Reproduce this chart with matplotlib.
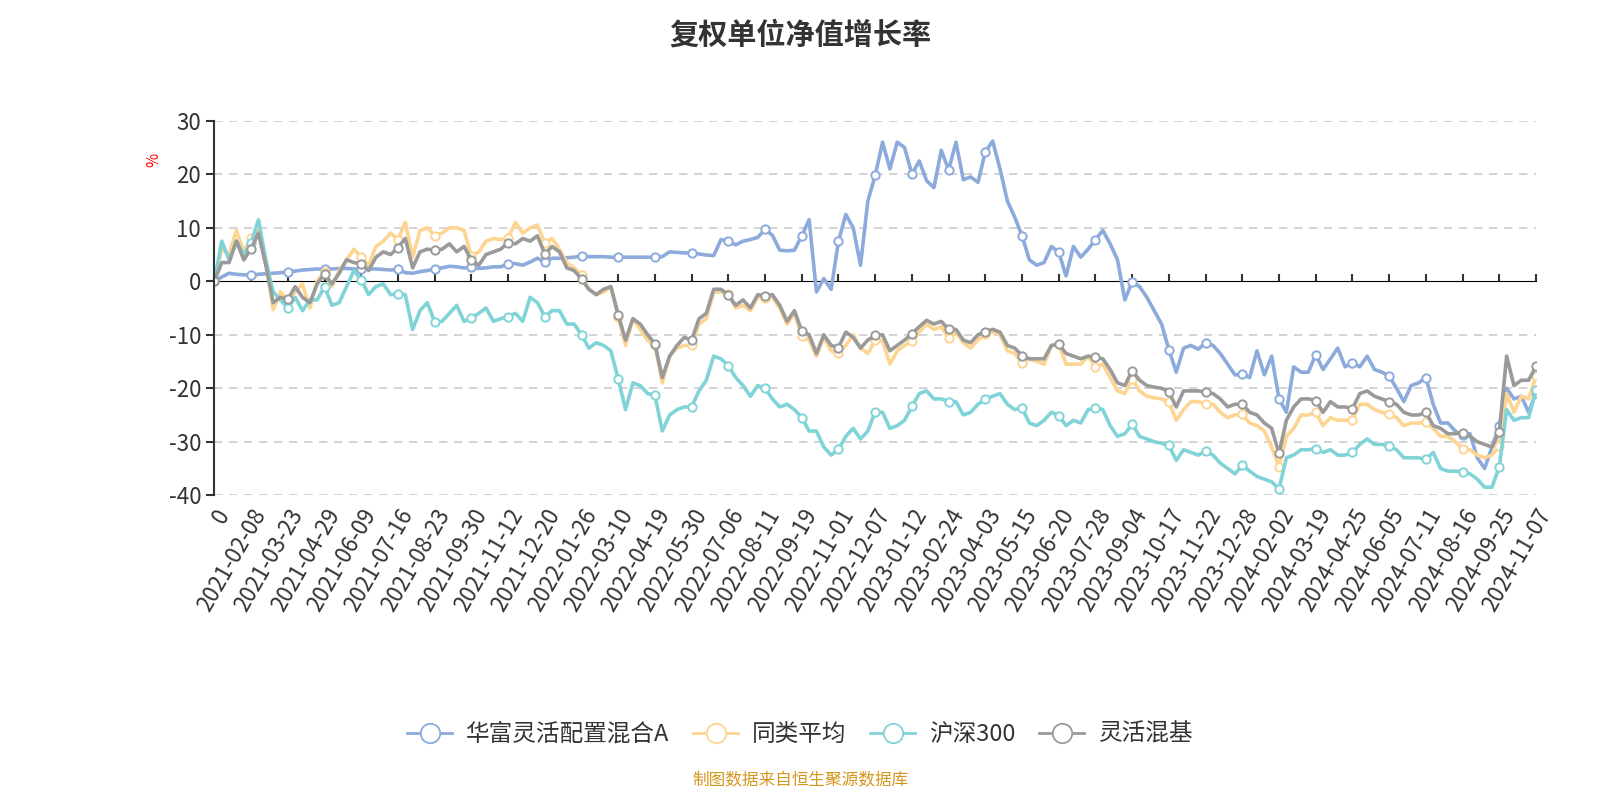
import numpy as np
import matplotlib
matplotlib.use("Agg")
import matplotlib.pyplot as plt
from matplotlib.lines import Line2D

plt.rcParams["font.family"] = ["Noto Sans CJK SC", "DejaVu Sans"]
plt.rcParams["axes.unicode_minus"] = False

title = "复权单位净值增长率"
source = "制图数据来自恒生聚源数据库"
names = ["华富灵活配置混合A", "同类平均", "沪深300", "灵活混基"]

# one label every 5 points
tick_labels = [
    "0", "2021-02-08", "2021-03-23", "2021-04-29", "2021-06-09", "2021-07-16",
    "2021-08-23", "2021-09-30", "2021-11-12", "2021-12-20", "2022-01-26",
    "2022-03-10", "2022-04-19", "2022-05-30", "2022-07-06", "2022-08-11",
    "2022-09-19", "2022-11-01", "2022-12-07", "2023-01-12", "2023-02-24",
    "2023-04-03", "2023-05-15", "2023-06-20", "2023-07-28", "2023-09-04",
    "2023-10-17", "2023-11-22", "2023-12-28", "2024-02-02", "2024-03-19",
    "2024-04-25", "2024-06-05", "2024-07-11", "2024-08-16", "2024-09-25",
    "2024-11-07",
]

fund = [
    0, 0.8, 1.5, 1.3, 1.2,
    1.1, 1.3, 1.4, 1.5, 1.6,
    1.7, 1.9, 2.1, 2.2, 2.3,
    2.2, 2.3, 2.4, 2.4, 2.3,
    2.2, 2.3, 2.3, 2.2, 2.1,
    2.2, 1.6, 1.5, 1.8, 2.0,
    2.3, 2.5, 2.8, 2.7, 2.5,
    2.6, 2.4, 2.5, 2.7, 2.7,
    3.3, 3.3, 3.0, 3.6, 4.3,
    3.6, 4.3, 4.3, 4.4, 4.5,
    4.7, 4.6, 4.6, 4.6, 4.5,
    4.5, 4.5, 4.5, 4.5, 4.5,
    4.5, 4.6, 5.5, 5.4, 5.3,
    5.3, 5.1, 4.9, 4.8, 7.8,
    7.5, 6.8, 7.5, 7.8, 8.2,
    9.7, 8.6, 5.8, 5.7, 5.8,
    8.5, 11.5, -2, 0.5, -1.5,
    7.5, 12.5, 10, 3, 15,
    19.8, 26, 21, 26, 25,
    20, 22.5, 18.8, 17.5, 24.5,
    20.8, 26, 19, 19.5, 18.5,
    24.2, 26.2, 21, 15, 12,
    8.5, 4, 3, 3.5, 6.5,
    5.4, 1, 6.5, 4.5, 6,
    7.8, 9.5, 7, 4, -3.5,
    -0.1, -1, -3, -5.5, -8,
    -12.8, -17, -12.5, -12, -12.7,
    -11.5, -12, -13.5, -15.5, -17.5,
    -17.4, -18, -13, -17.5, -14,
    -22, -24.5, -16, -17, -17,
    -13.7, -16.5, -14.5, -12.5, -16,
    -15.2, -16, -14, -16.5, -17,
    -17.7, -20, -22.5, -19.5, -19,
    -18, -23, -26.5, -26.5, -28,
    -28.8, -28.5, -33, -35, -31,
    -27, -20, -22, -21.5, -24.5,
    -20.8,
]

peer_avg = [
    0, 6, 5, 9.5, 5.5,
    8.1, 9.5, 4, -5.3, -2,
    -3.5, -2, -0.5, -5, 0,
    1.7, -1, 2, 4, 6,
    4.5, 3, 6.5, 7.5, 9,
    7.8, 11, 4.5, 9.5, 10,
    8.5, 9, 10, 10, 9.5,
    4.7, 5.5, 7.5, 8, 7.8,
    8.1, 11, 9, 10, 10.5,
    7.2, 8, 6, 3.5, 2.5,
    1.2, -1.5, -2.5, -2, -1,
    -6.6, -12, -7, -9, -11,
    -12, -19, -14, -12.5, -12,
    -12, -8, -7, -2, -2,
    -2.4, -5, -4.5, -5.5, -3,
    -3.1, -3, -5, -8, -6,
    -10.3, -11, -14, -10.5, -13,
    -13.5, -12, -10, -12.5, -13.5,
    -11, -11, -15.5, -13, -12,
    -11.2, -9.5, -8, -9, -8.5,
    -10.6, -9.5, -11.5, -12.5, -11,
    -9.8, -9.5, -10, -13, -13.5,
    -15.3, -14.5, -15, -15.5, -12,
    -11.8, -15.5, -15.5, -15.5, -14,
    -16, -15.5, -18, -20.5, -21,
    -18.2, -20.5, -21.5, -21.8, -22,
    -22.6, -26, -24, -22.5, -22.5,
    -23, -23, -24.5, -25.5, -25,
    -24.9, -26.5, -27, -28, -31,
    -34.7, -29, -27.5, -25, -25,
    -24.5, -27, -25.5, -26, -26,
    -25.9, -23, -23, -24, -24.5,
    -24.8, -25.5, -27, -26.5, -26.5,
    -26.4, -27.5, -29, -29, -30,
    -31.3, -31.5, -32.5, -33, -32.5,
    -30.8, -21, -24.5, -21.5, -22,
    -17.7,
]

hs300 = [
    0, 7.5, 4, 7.5, 5,
    7.2, 11.5, 4, -2, -3.5,
    -5, -3, -5.5, -3.5, -3.5,
    -1, -4.5, -4, -1, 2,
    0.3, -2.5, -1, -0.5, -2.5,
    -2.4, -2.5, -9, -5.5, -4,
    -7.6, -7.5, -6, -4.5, -7.5,
    -6.9, -6, -5, -7.5, -7,
    -6.6, -6, -7.5, -3, -4,
    -6.6, -5.5, -5.5, -8, -8,
    -10, -12.5, -11.5, -12, -13,
    -18.3, -24, -19, -19.5, -21,
    -21.3, -28, -25, -24, -23.5,
    -23.5, -20.5, -18.5, -14, -14.5,
    -15.8, -18, -19.5, -21.5, -19.5,
    -20, -22, -23.5, -23, -24,
    -25.5, -28, -28, -31, -32.5,
    -31.4, -29, -27.5, -29.5, -28,
    -24.4, -24.5, -27.5, -27, -26,
    -23.4, -21, -20.5, -22, -22,
    -22.5, -22.5, -25, -24.5, -23,
    -22, -21.5, -21, -23, -24,
    -23.7, -26.5, -27, -26, -24.5,
    -25.1, -27, -26, -26.5, -24,
    -23.7, -24, -27, -29, -28.5,
    -26.7, -29, -29.5, -30, -30.3,
    -30.7, -33.5, -31.5, -32, -32.5,
    -31.8, -32.5, -34, -35, -36,
    -34.4, -35.5, -36.5, -37, -37.5,
    -38.8, -33, -32.5, -31.5, -31.5,
    -31.3, -32, -31.5, -32.5, -32.5,
    -32, -30.5, -29.5, -30.5, -30.5,
    -30.8, -31.5, -33, -33, -33,
    -33.3, -32, -35, -35.5, -35.5,
    -35.6, -36, -37, -38.5, -38.5,
    -34.7, -24, -26, -25.5, -25.5,
    -20.3,
]

flex_mix = [
    0, 3.5, 3.5, 7.5, 4,
    6.1, 9, 3, -4, -3,
    -3.4, -1, -3, -4, -0.5,
    1.4, -0.5, 1.5, 4, 3.5,
    3.3, 2, 4.5, 5.5, 5,
    6.3, 8, 2.5, 5.5, 6,
    5.8, 6, 7, 5.5, 6.5,
    4, 3, 5, 5.5, 6,
    7.2, 7, 8, 7.5, 8.5,
    5.1, 6.5, 5.5, 2.5, 2,
    0.4, -1.5, -2.5, -1.5, -1,
    -6.3, -11, -7, -8, -10,
    -11.7, -18, -14, -12, -10.5,
    -11, -7, -6, -1.5, -1.5,
    -2.6, -4.5, -3.5, -5, -2.5,
    -2.8, -2.5, -4.5, -7.5, -5.5,
    -9.3, -10, -13.5, -10, -12,
    -12.4, -9.5, -10.5, -12.5, -11,
    -10.1, -10, -13, -12, -11,
    -9.8, -8.5, -7.3, -8, -7.5,
    -9, -9, -11, -11.5, -10,
    -9.4, -9, -9.5, -12, -12.5,
    -13.9, -14.5, -14.5, -14.5, -12,
    -11.8, -13.5, -14, -14.5, -14,
    -14.2, -14.5, -16.5, -19, -19.5,
    -16.7, -18.5, -19.5, -19.8, -20,
    -20.7, -23.5, -20.5, -20.5, -20.5,
    -20.7, -21, -22, -23.5, -23,
    -23, -24.5, -25, -26.5, -27.5,
    -32.2, -26, -23.5, -22, -22,
    -22.3, -24.5, -22.5, -23.5, -23.5,
    -23.8, -21, -20.5, -21.5, -22,
    -22.5, -23, -24.5, -25, -25,
    -24.5, -27, -27.5, -28.5, -28.5,
    -28.3, -29, -30, -30.5, -31,
    -28.2, -14, -19.5, -18.5, -18.5,
    -15.9,
]

colors = ["#8caadb", "#fdd591", "#80d4d8", "#9a9a9a"]
series = [fund, peer_avg, hs300, flex_mix]
step = 5

fig = plt.figure(figsize=(16, 8), dpi=100)
ax = fig.add_axes([0.134, 0.381, 0.826, 0.468])

x = np.arange(len(fund))
for vals, col, name in zip(series, colors, names):
    ax.plot(x, vals, color=col, lw=2.6, marker="o", markevery=step,
            markersize=6, markerfacecolor="white", markeredgecolor=col,
            markeredgewidth=1.4, label=name)

ax.set_xlim(0, len(fund) - 1)
ax.set_ylim(-40, 30)
ax.set_yticks(range(-40, 31, 10))
for v in range(-40, 31, 10):
    if v != 0:
        ax.axhline(v, color="#cccccc", lw=1.2, ls=(0, (5, 4)), zorder=0)

for s in ["top", "right", "bottom"]:
    ax.spines[s].set_visible(False)
ax.spines["left"].set_color("#333333")
ax.spines["left"].set_linewidth(1.5)
ax.tick_params(axis="y", colors="#333333", labelsize=16, length=6, width=1.5)

ticks = np.arange(0, len(fund), step)
ax.set_xticks(ticks)
ax.set_xticklabels(tick_labels, rotation=60, ha="right", rotation_mode="anchor")
ax.tick_params(axis="x", colors="#333333", labelsize=16, length=0, pad=7)

# axis line crosses at y = 0
zero = ax.secondary_xaxis(40 / 70)
zero.set_xticks(ticks)
zero.set_xticklabels([])
zero.spines["bottom"].set_color("#333333")
zero.spines["bottom"].set_linewidth(1.8)
zero.tick_params(axis="x", colors="#333333", length=5, width=1.5)

fig.text(0.096, 0.80, "%", color="red", fontsize=11, rotation=90,
         ha="center", va="center")

fig.suptitle(title, x=0.5, y=0.975, fontsize=21, fontweight="bold", color="#333333")

handles = [Line2D([], [], color=c, lw=2, marker="o", markersize=14,
                  markerfacecolor="white", markeredgecolor=c, markeredgewidth=1.3)
           for c in colors]
fig.legend(handles, names, loc="center", bbox_to_anchor=(0.5, 0.082), ncol=4,
           frameon=False, fontsize=17, handlelength=1.9, columnspacing=1.0,
           handletextpad=0.6, labelcolor="#333333")

fig.text(0.5, 0.014, source, color="#d4961e", fontsize=12, ha="center", va="bottom")

fig.savefig("out.png", dpi=100)
